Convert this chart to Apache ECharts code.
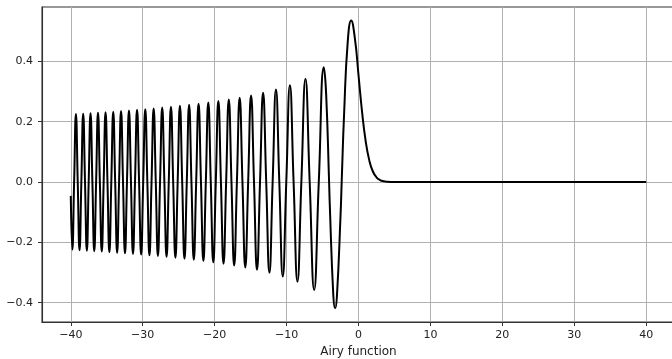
<!DOCTYPE html>
<html>
<head>
<meta charset="utf-8">
<script src="https://cdn.jsdelivr.net/npm/echarts@6/dist/echarts.min.js"></script>
<style>
  html, body { margin: 0; padding: 0; background: #fff; }
  #chart { width: 672px; height: 359px; }
</style>
</head>
<body>
<div id="chart"></div>
<script>
// x positions (start, troughs, zeros, peaks, and samples of the main lobe and tail)
const xValues = [
  -40.000, -39.784, -39.534, -39.284, -39.033, -38.782, -38.528, -38.276, -38.021, -37.765,
  -37.510, -37.253, -36.995, -36.737, -36.477, -36.216, -35.955, -35.692, -35.428, -35.165,
  -34.898, -34.633, -34.365, -34.097, -33.827, -33.556, -33.285, -33.012, -32.738, -32.463,
  -32.187, -31.909, -31.631, -31.351, -31.069, -30.787, -30.503, -30.218, -29.931, -29.643,
  -29.354, -29.064, -28.772, -28.479, -28.183, -27.887, -27.589, -27.289, -26.987, -26.684,
  -26.378, -26.072, -25.764, -25.454, -25.140, -24.826, -24.510, -24.192, -23.872, -23.549,
  -23.224, -22.897, -22.567, -22.235, -21.901, -21.564, -21.225, -20.882, -20.537, -20.189,
  -19.838, -19.483, -19.126, -18.765, -18.401, -18.033, -17.661, -17.285, -16.905, -16.521,
  -16.133, -15.739, -15.340, -14.936, -14.527, -14.113, -13.691, -13.263, -12.829, -12.385,
  -11.936, -11.475, -11.009, -10.528, -10.040, -9.535, -9.023, -8.488, -7.944, -7.372,
  -6.787, -6.163, -5.521, -4.820, -4.500, -4.088, -4.000, -3.500, -3.248, -3.000,
  -2.500, -2.338, -2.000, -1.500, -1.019, -0.500, 0.000, 0.500, 1.000, 1.500,
  2.000, 2.500, 3.000, 3.500, 4.000, 5.000, 6.000, 40.000
];
// Ai(x) values at those positions
const yValues = [
  -0.0459, -0.2247, 0, 0.2254, 0, -0.2261, 0, 0.2268, 0, -0.2276,
  0, 0.2284, 0, -0.2292, 0, 0.2300, 0, -0.2308, 0, 0.2317,
  0, -0.2326, 0, 0.2335, 0, -0.2344, 0, 0.2354, 0, -0.2364,
  0, 0.2374, 0, -0.2384, 0, 0.2395, 0, -0.2406, 0, 0.2418,
  0, -0.2430, 0, 0.2442, 0, -0.2455, 0, 0.2469, 0, -0.2482,
  0, 0.2497, 0, -0.2512, 0, 0.2528, 0, -0.2544, 0, 0.2561,
  0, -0.2579, 0, 0.2598, 0, -0.2618, 0, 0.2639, 0, -0.2662,
  0, 0.2686, 0, -0.2711, 0, 0.2738, 0, -0.2767, 0, 0.2799,
  0, -0.2833, 0, 0.2870, 0, -0.2911, 0, 0.2957, 0, -0.3007,
  0, 0.3065, 0, -0.3132, 0, 0.3210, 0, -0.3305, 0, 0.3423,
  0, -0.3579, 0, 0.3804, 0.2923, 0, -0.0703, -0.3763, -0.4190, -0.3788,
  -0.1123, 0, 0.2274, 0.4642, 0.5357, 0.4757, 0.3550, 0.2317, 0.1353, 0.0718,
  0.0349, 0.0157, 0.0066, 0.0026, 0.00095, 0.0001, 0.00001, 0
];
const xTicks = [-40, -30, -20, -10, 0, 10, 20, 30, 40];
const yTicks = [-0.4, -0.2, 0.0, 0.2, 0.4];
const xLabel = 'Airy function';

const points = xValues.map((x, i) => [x, yValues[i]]);
const minus = s => s.replace('-', '\u2212');
const font = 'DejaVu Sans';

const chart = echarts.init(document.getElementById('chart'), null, { renderer: 'canvas' });
chart.setOption({
  animation: false,
  backgroundColor: '#ffffff',
  grid: {
    left: 42, top: 7, width: 633, height: 315,
    containLabel: false, outerBoundsMode: 'none',
    show: true, borderColor: '#333', borderWidth: 1.1, backgroundColor: 'transparent'
  },
  xAxis: {
    type: 'value', min: -44, max: 44, splitNumber: 9,
    name: xLabel, nameLocation: 'middle', nameGap: 22,
    nameTextStyle: { fontFamily: font, fontSize: 12, color: '#222' },
    axisLine: { show: true, onZero: false, lineStyle: { color: '#333', width: 1.1 } },
    axisTick: { show: true, customValues: xTicks, length: 4, lineStyle: { color: '#333', width: 1 } },
    axisLabel: {
      customValues: xTicks, margin: 8, fontFamily: font, fontSize: 11, color: '#222',
      formatter: v => minus(String(Math.round(v)))
    },
    splitLine: { show: true, lineStyle: { color: '#b0b0b0', width: 1 } }
  },
  yAxis: {
    type: 'value', min: -0.4642, max: 0.5805, splitNumber: 5,
    axisLine: { show: true, onZero: false, lineStyle: { color: '#333', width: 1.1 } },
    axisTick: { show: true, customValues: yTicks, length: 4, lineStyle: { color: '#333', width: 1 } },
    axisLabel: {
      customValues: yTicks, margin: 9, fontFamily: font, fontSize: 11, color: '#222',
      formatter: v => minus(Number(v).toFixed(1))
    },
    splitLine: { show: true, lineStyle: { color: '#b0b0b0', width: 1 } }
  },
  series: [{
    type: 'line',
    data: points,
    smooth: 0.5,
    showSymbol: false,
    symbol: 'none',
    clip: true,
    lineStyle: { color: '#000', width: 2 }
  }]
});
</script>
</body>
</html>
